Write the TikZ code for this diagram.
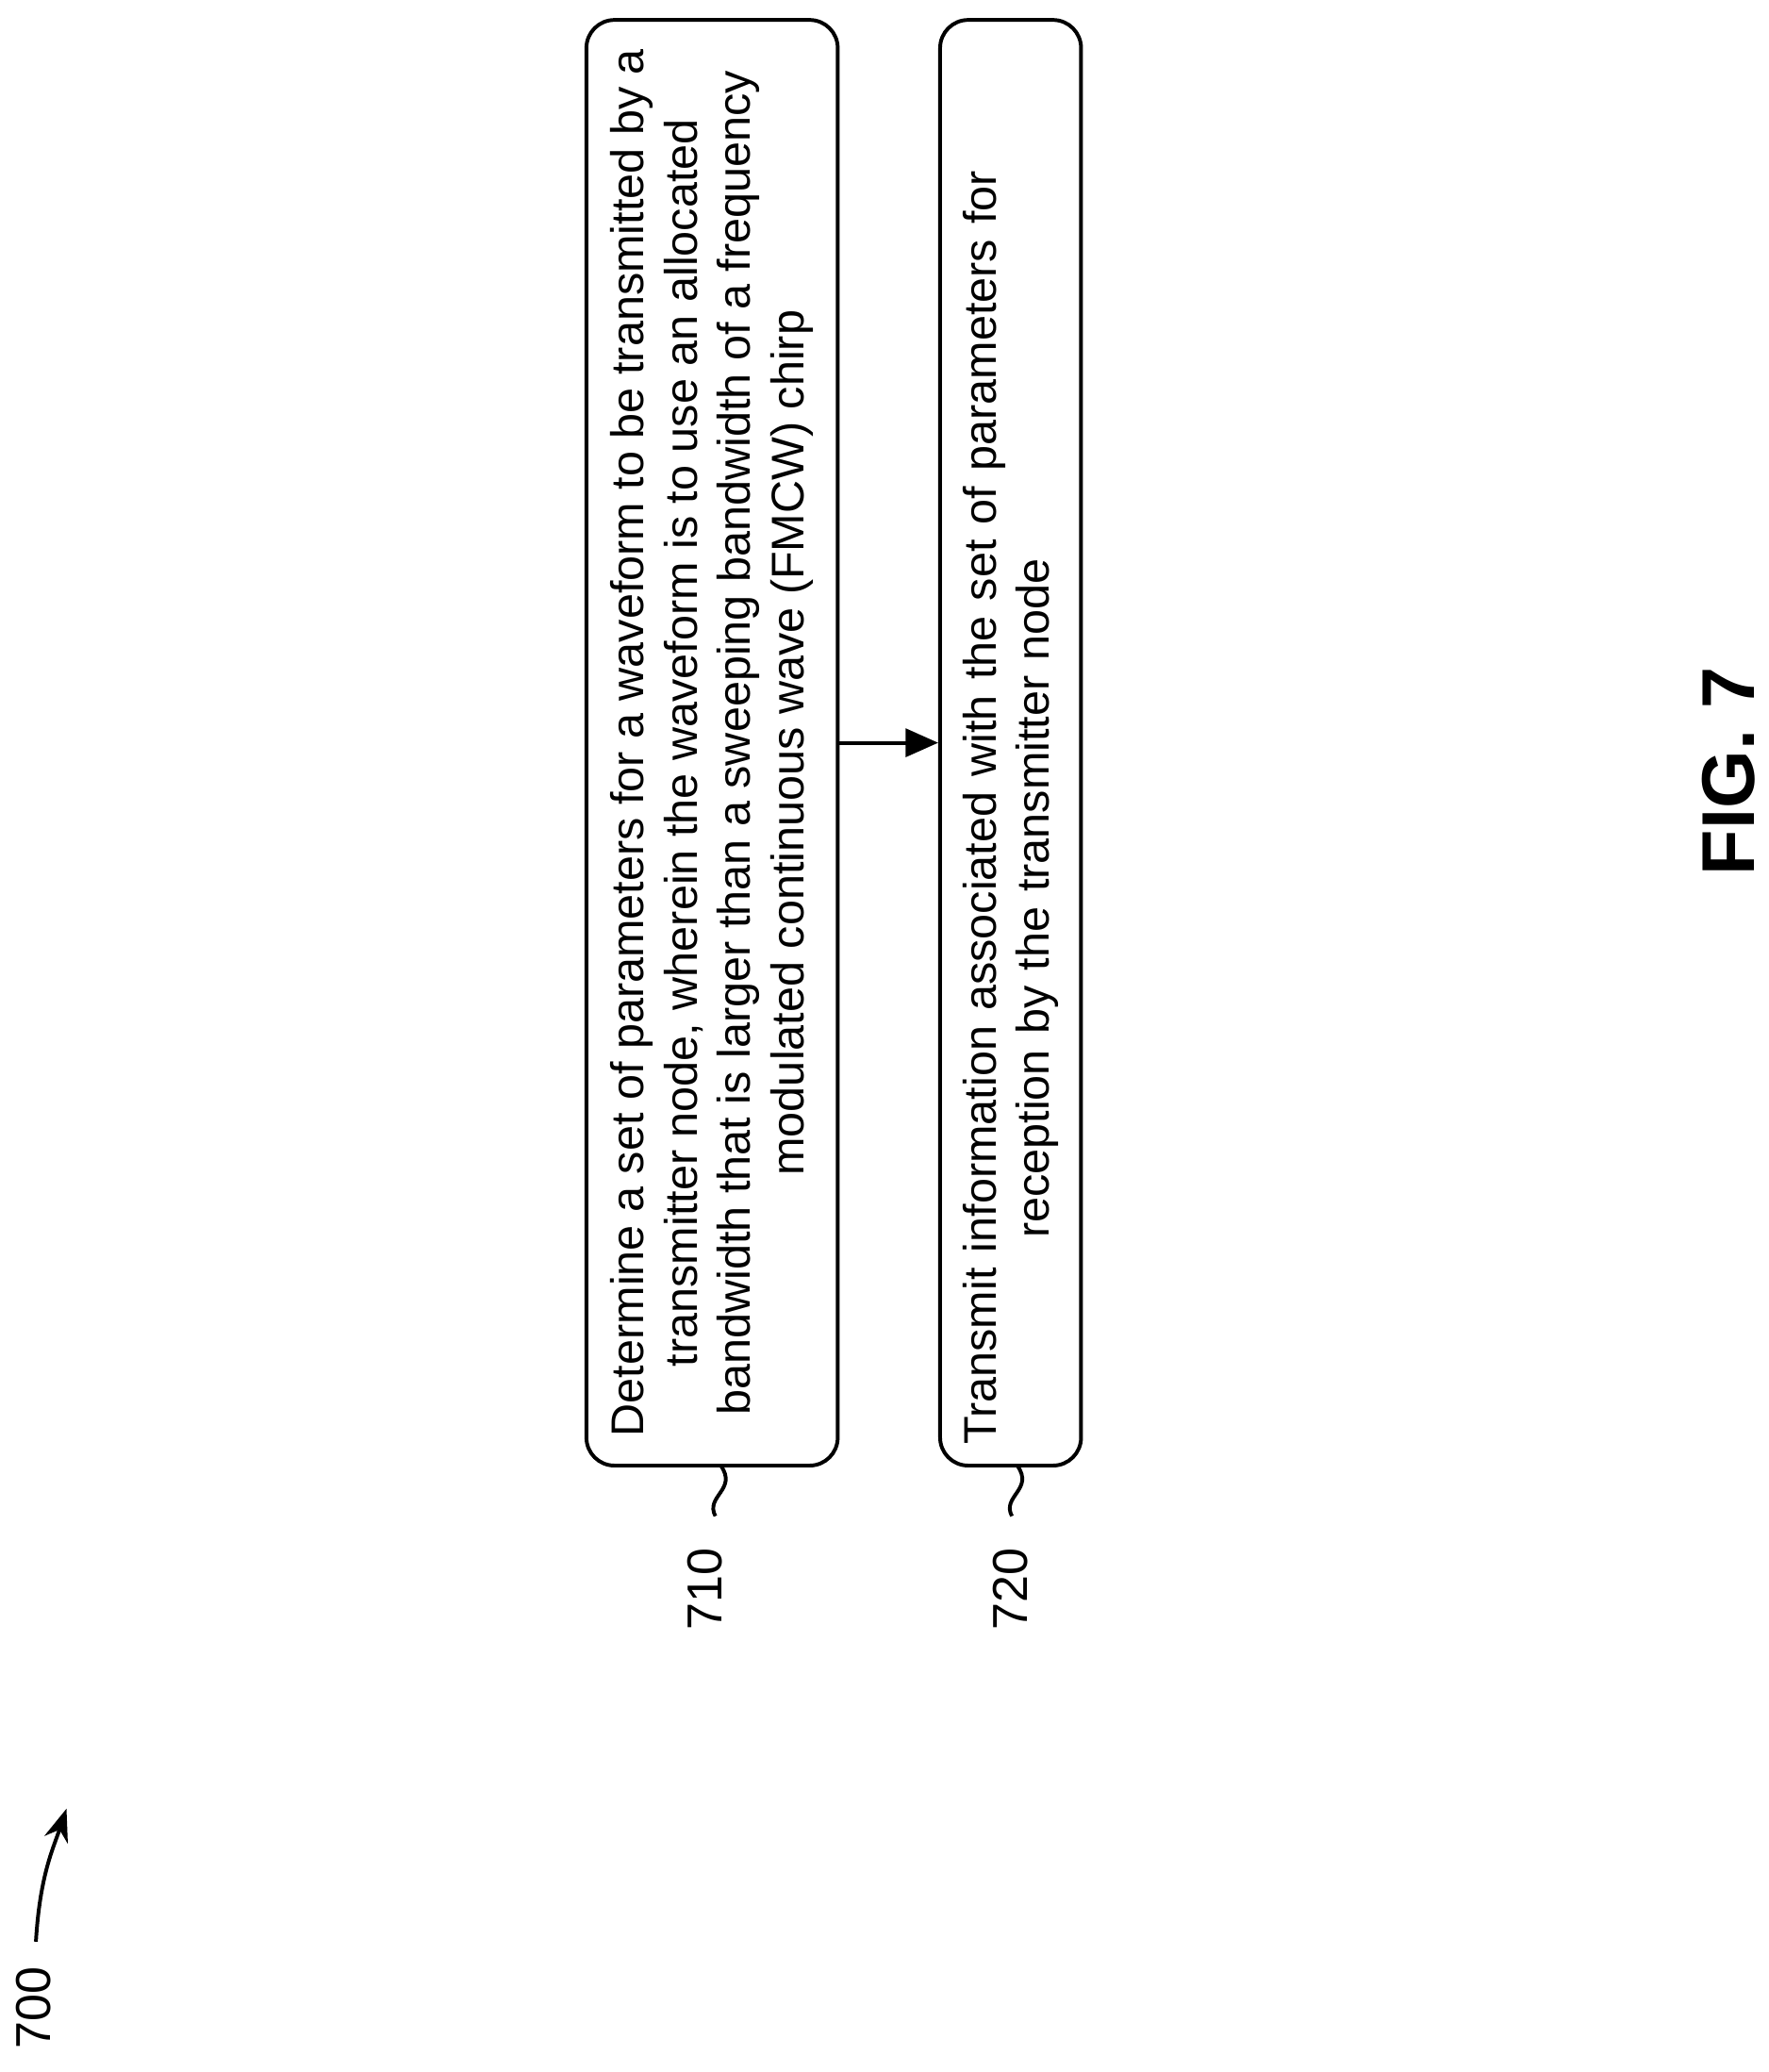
\documentclass[tikz,border=0pt]{standalone}
\usepackage{fontspec}
\setmainfont{Liberation Sans}
\usetikzlibrary{positioning,arrows.meta}
\begin{document}
\begin{tikzpicture}[node distance=2cm]
\tikzstyle{stepbox}=[draw,thick,rounded corners=6pt,rotate=90,minimum width=10.87cm,
  font=\fontsize{9.8}{11.4}\selectfont,inner sep=4pt]
\useasboundingbox (0,0) rectangle (13.3,-15.58);
\node [stepbox,minimum height=1.89cm,align=center] (s710) at (5.355,-5.585)
 {Determine a set of parameters for a waveform to be transmitted by a\\ transmitter node, wherein the waveform is to use an allocated\\ bandwidth that is larger than a sweeping bandwidth of a frequency\\ modulated continuous wave (FMCW) chirp};
\node [stepbox,minimum height=1.06cm,text width=10.55cm,align=left] (s720) at (7.6,-5.585)
 {Transmit information associated with the set of parameters for\\ \hspace*{4.5em}reception by the transmitter node};
\draw[thick,-{Triangle[length=7pt,width=6pt]}] (s710.south) -- (s720.north);
% reference labels
\node [rotate=90,font=\fontsize{10.5}{12}\selectfont] (l710) at (5.3,-11.95) {710};
\node [rotate=90,font=\fontsize{10.5}{12}\selectfont] (l720) at (7.6,-11.95) {720};
\draw[thick] (5.42,-11.02) .. controls (5.55,-11.2) and (5.3,-11.25) .. (5.38,-11.4);
\draw[thick] (7.65,-11.02) .. controls (7.78,-11.2) and (7.53,-11.25) .. (7.61,-11.4);
\node [rotate=90,font=\fontsize{10.5}{12}\selectfont] (l700) at (0.25,-15.1) {700};
\draw[thick,-{Stealth[length=7pt]}] (0.27,-14.6) .. controls (0.3,-14.1) and (0.4,-13.9) .. (0.5,-13.6);
\node [rotate=90,font=\bfseries\fontsize{16}{19}\selectfont] (fig) at (13.0,-5.8) {FIG. 7};
\end{tikzpicture}
\end{document}
